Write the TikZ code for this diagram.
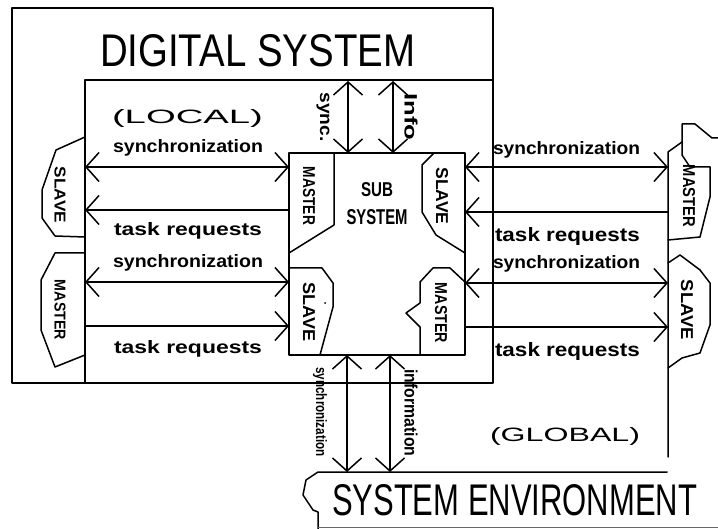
\documentclass[tikz,border=0pt]{standalone}
\usepackage{fontspec}
\usepackage{graphicx}
\usetikzlibrary{arrows.meta}
\newfontfamily\cadfont{Liberation Sans}
% text fitted to a given width and height (height above baseline)
\newcommand\fitreg[3]{\resizebox{#1pt}{#2pt}{\cadfont #3}}
\newcommand\fitbold[3]{\resizebox{#1pt}{#2pt}{\cadfont\bfseries #3}}
% same, height measured as total height
\newcommand\fitboldt[3]{\resizebox*{#1pt}{#2pt}{\cadfont\bfseries #3}}

\begin{document}
\begin{tikzpicture}[x=1pt,y=-1pt,
  line width=1.5pt, line join=round, line cap=round,
  >={Straight Barb[length=13pt,width=29pt]},
  txt/.style={inner sep=0pt, outer sep=0pt},
  lbl/.style={txt, anchor=base west},
  vlbl/.style={txt, anchor=center, rotate=-90},
  link/.style={line width=1.5pt}]

\fill[white] (0,0) rectangle (718,529);
\useasboundingbox (0,0) rectangle (718,529);

% ---------- digital system frame and local region ----------
\draw (12,8) -- (493,8) -- (493,383) -- (12,383) -- cycle;
\draw (85,383) -- (85,80) -- (493,80);

% ---------- sub system ----------
\draw (289,153) rectangle (465,355);
\draw (334,153) -- (334,225) -- (289,253);                       % master, top left
\draw (434,153) -- (422,165) -- (422,212) -- (436,235) -- (465,253); % slave, top right
\draw (289,268) -- (322,268) -- (333,283) -- (333,307) -- (320,355); % slave, bottom left
\draw (465,282) -- (450,268) -- (433,268) -- (420,282) -- (420,303)
      -- (406,313) -- (420,327) -- (420,355);                     % master, bottom right
\fill (325,303) circle (1pt);

% ---------- local partners ----------
\draw (85,137) -- (56,150) -- (42,190) -- (42,218) -- (55,236) -- (85,237);   % slave
\draw (85,253) -- (55,253) -- (41,280) -- (41,330) -- (55,367) -- (85,355);   % master

% ---------- global region and partners ----------
\draw (718,138) -- (712,138) -- (695,124) -- (682,124) -- (682,142)
      -- (668,152) -- (668,457);
\draw (682,142) -- (682,155) -- (690,167) -- (710,167) -- (710,197)
      -- (700,237) -- (668,240);                                  % master
\draw (668,263) -- (680,255) -- (700,270) -- (710,283) -- (710,325)
      -- (700,353) -- (682,358) -- (668,368);                     % slave

% ---------- system environment ----------
\draw (667,472) -- (318,472) -- (306,480) -- (303,495) -- (313,510)
      -- (318,512) -- (318,529);
\draw[line width=1pt, black!60] (318,527.5) -- (718,527.5);

% ---------- connector end points ----------
\coordinate (la1) at (85,167);  \coordinate (lb1) at (289,167);
\coordinate (la2) at (85,210);  \coordinate (lb2) at (289,210);
\coordinate (la3) at (85,282);  \coordinate (lb3) at (289,282);
\coordinate (la4) at (85,326);  \coordinate (lb4) at (289,326);
\coordinate (ra1) at (465,167); \coordinate (rb1) at (668,167);
\coordinate (ra2) at (465,212); \coordinate (rb2) at (668,212);
\coordinate (ra3) at (465,283); \coordinate (rb3) at (668,283);
\coordinate (ra4) at (465,327); \coordinate (rb4) at (668,327);
\coordinate (ta1) at (348,81);  \coordinate (tb1) at (348,153);
\coordinate (ta2) at (393,81);  \coordinate (tb2) at (393,153);
\coordinate (ba1) at (347,355); \coordinate (bb1) at (347,472);
\coordinate (ba2) at (390,355); \coordinate (bb2) at (390,472);

\draw[link,<->] (la1) -- (lb1);
\draw[link,->]  (lb2) -- (la2);
\draw[link,<->] (la3) -- (lb3);
\draw[link,->]  (la4) -- (lb4);
\draw[link,<->] (ra1) -- (rb1);
\draw[link,->]  (rb2) -- (ra2);
\draw[link,<->] (ra3) -- (rb3);
\draw[link,->]  (ra4) -- (rb4);
\draw[link,<->] (ta1) -- (tb1);
\draw[link,<->] (ta2) -- (tb2);
\draw[link,<->] (ba1) -- (bb1);
\draw[link,<->] (ba2) -- (bb2);

% ---------- titles ----------
\node[lbl] (tdig) at (100,67) {\fitreg{315}{32}{DIGITAL SYSTEM}};
\node[lbl] (tloc) at (112,124) {\fitreg{151}{14}{(LOCAL)}};
\node[lbl] (tglo) at (490,442) {\fitreg{150}{14}{(GLOBAL)}};
\node[lbl] (tenv) at (332,515) {\fitreg{365}{31}{SYSTEM ENVIRONMENT}};
\node[txt, anchor=base] (tsub1) at (377,197) {\fitbold{32}{14}{SUB}};
\node[txt, anchor=base] (tsub2) at (377,225) {\fitbold{61}{15}{SYSTEM}};

% ---------- box captions ----------
\node[vlbl] (cls) at (60,195)  {\fitbold{56}{11}{SLAVE}};
\node[vlbl] (clm) at (60,310)  {\fitbold{60}{11}{MASTER}};
\node[vlbl] (csm1) at (309,196) {\fitbold{58}{12}{MASTER}};
\node[vlbl] (css1) at (442,196) {\fitbold{57}{12}{SLAVE}};
\node[vlbl] (css2) at (309,312) {\fitbold{59}{12}{SLAVE}};
\node[vlbl] (csm2) at (441,313) {\fitbold{60}{12}{MASTER}};
\node[vlbl] (crm) at (689,196) {\fitbold{62}{12}{MASTER}};
\node[vlbl] (crs) at (687,310) {\fitbold{60}{12}{SLAVE}};

% ---------- connector labels ----------
\node[lbl] (l1) at (113,153) {\fitbold{150}{13}{synchronization}};
\node[lbl] (l2) at (114,236) {\fitbold{148}{13}{task requests}};
\node[lbl] (l3) at (113,268) {\fitbold{150}{13}{synchronization}};
\node[lbl] (l4) at (114,354) {\fitbold{148}{13}{task requests}};
\node[lbl] (r1) at (493,155) {\fitbold{147}{13}{synchronization}};
\node[lbl] (r2) at (495,242) {\fitbold{145}{14}{task requests}};
\node[lbl] (r3) at (493,269) {\fitbold{147}{13}{synchronization}};
\node[lbl] (r4) at (495,357) {\fitbold{145}{14}{task requests}};
\node[vlbl] (vt1) at (323,117) {\fitboldt{49}{13}{sync.}};
\node[vlbl] (vt2) at (411,117) {\fitbold{47}{13}{Info}};
\node[vlbl] (vb1) at (320,412) {\fitboldt{89}{14}{synchronization}};
\node[vlbl] (vb2) at (411,413) {\fitbold{87}{13}{information}};
\end{tikzpicture}
\end{document}
